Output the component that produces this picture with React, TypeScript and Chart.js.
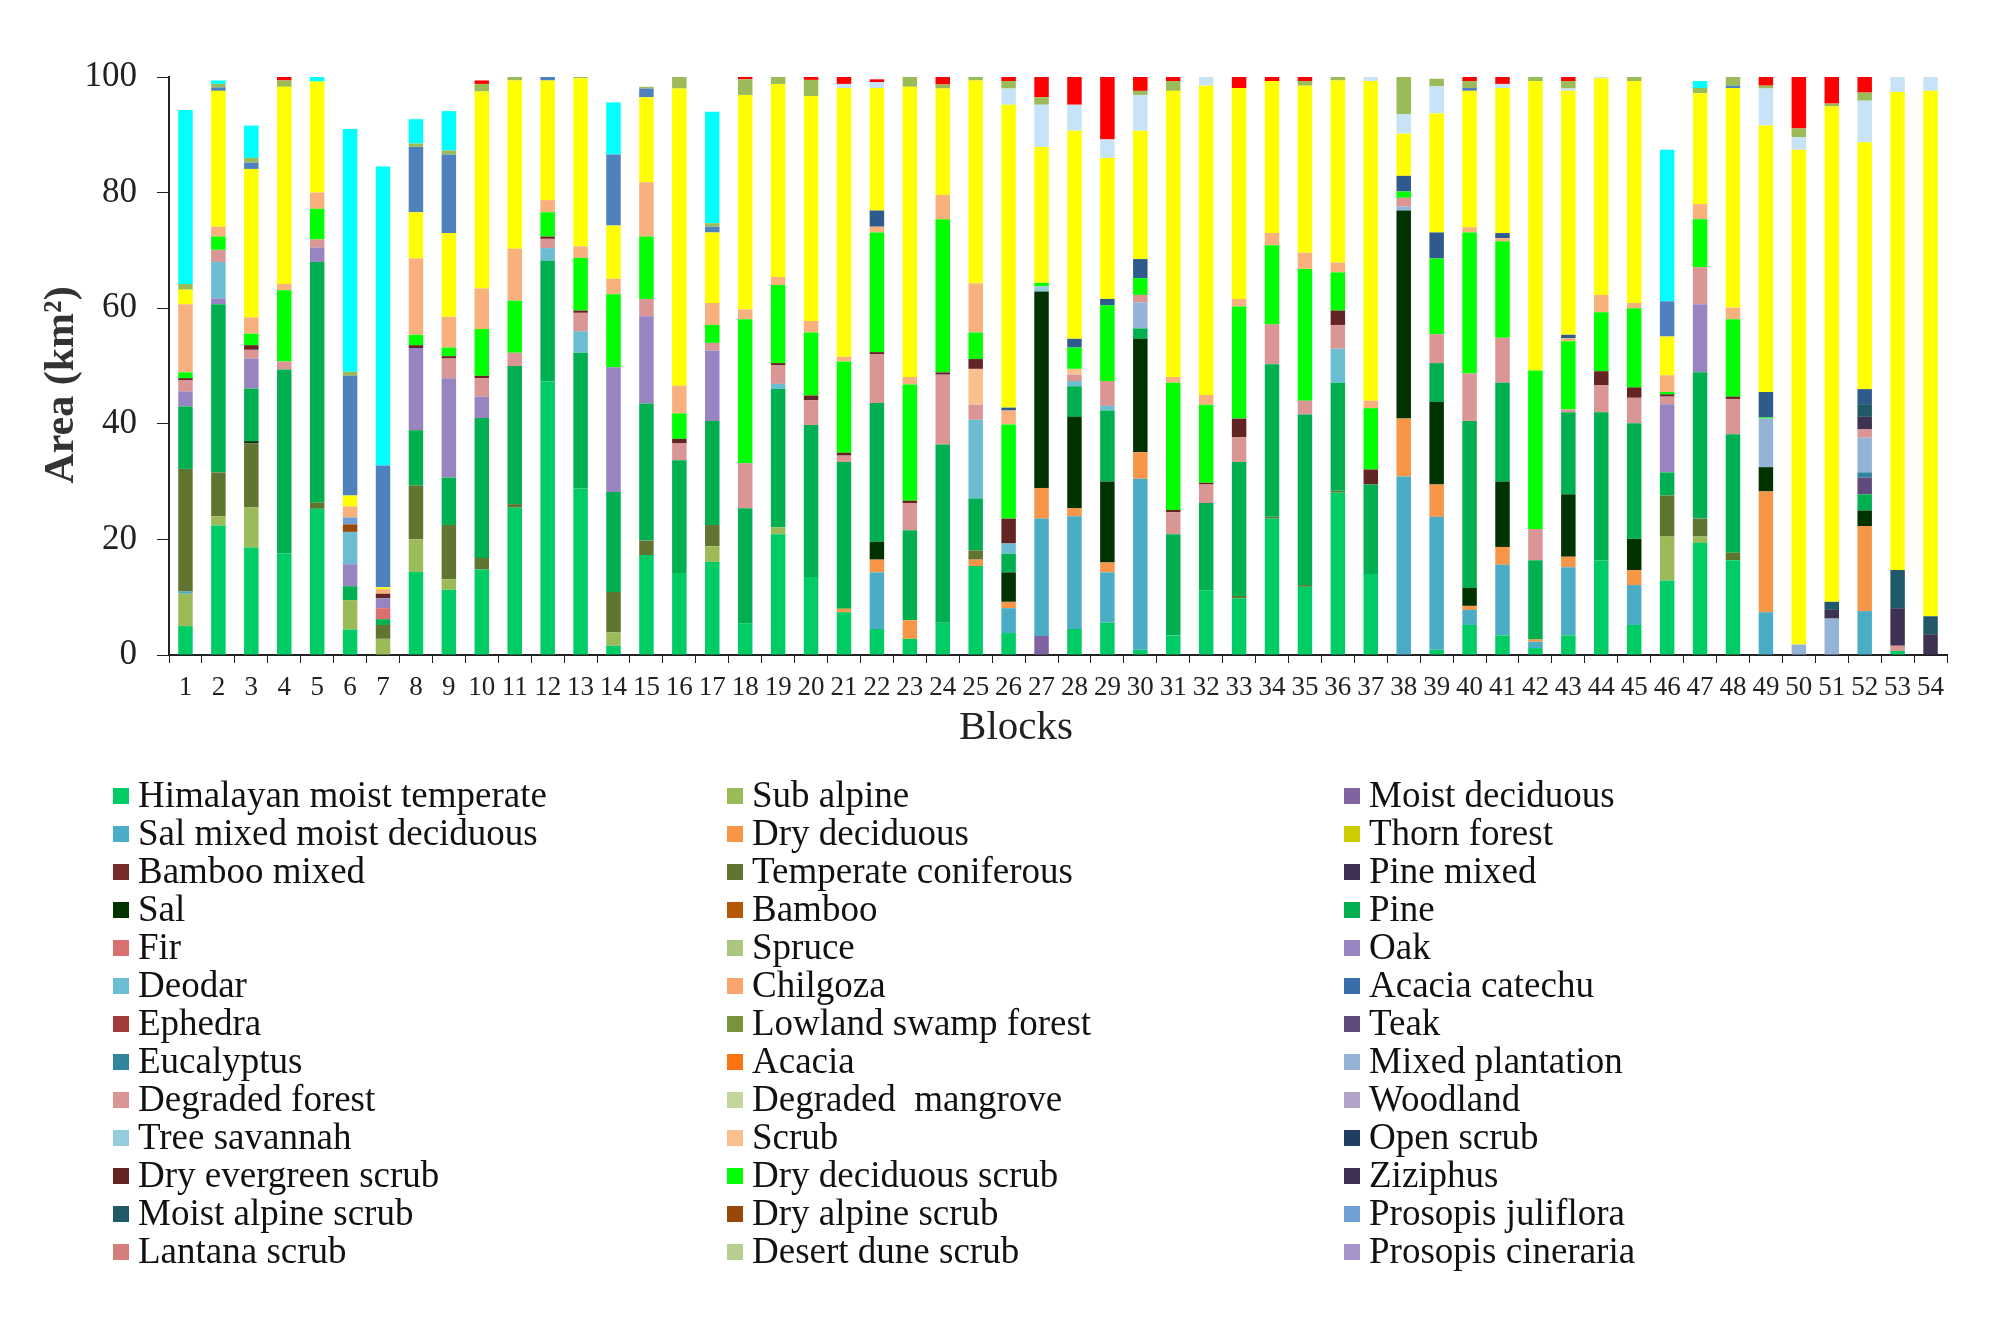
import { useEffect, useRef } from 'react';
import { Chart, registerables } from 'chart.js';

Chart.register(...registerables);

const blocks = Array.from({ length: 54 }, (_, i) => String(i + 1));
const yTicks = [0, 20, 40, 60, 80, 100];

// area per block (km2), bottom to top
const hmt = [
  5.0, 22.4, 18.6, 17.6, 25.3, 4.4, 0, 14.4, 11.3, 14.8,
  25.5, 47.3, 28.8, 1.6, 17.3, 14.2, 16.1, 5.5, 20.9, 13.5,
  7.4, 4.5, 2.8, 5.6, 15.4, 3.8, 0, 4.5, 5.6, 0.9,
  3.4, 11.2, 9.8, 23.6, 11.8, 28.1, 14.0, 0, 0.9, 5.2,
  3.4, 1.2, 3.4, 16.4, 5.2, 12.9, 19.4, 16.4, 0, 0,
  0, 0, 0.7, 0,
];
const subAlpine = [
  5.6, 1.6, 6.9, 0, 0, 5.1, 2.8, 5.6, 1.8, 0,
  0, 0, 0, 2.3, 0, 0, 2.7, 0, 1.2, 0,
  0, 0, 0, 0, 0, 0, 0, 0, 0, 0,
  0, 0, 0, 0, 0, 0, 0, 0, 0, 0,
  0, 0, 0, 0, 0, 7.6, 1.1, 0, 0, 0,
  0, 0, 0, 0,
];
const moistDeciduous = [
  0, 0, 0, 0, 0, 0, 0, 0, 0, 0,
  0, 0, 0, 0, 0, 0, 0, 0, 0, 0,
  0, 0, 0, 0, 0, 0, 3.3, 0, 0, 0,
  0, 0, 0, 0, 0, 0, 0, 0, 0, 0,
  0, 0, 0, 0, 0, 0, 0, 0, 0, 0,
  0, 0, 0, 0,
];
const salMixed = [
  0.4, 0, 0, 0, 0, 0, 0, 0, 0, 0,
  0, 0, 0, 0, 0, 0, 0, 0, 0, 0,
  0, 9.8, 0, 0, 0, 4.3, 20.3, 19.5, 8.7, 29.6,
  0, 0, 0, 0, 0, 0, 0, 30.9, 23.0, 2.6,
  12.2, 1.1, 11.8, 0, 6.9, 0, 0, 0, 7.4, 0,
  0, 7.6, 0, 0,
];
const dryDeciduous = [
  0, 0, 0, 0, 0, 0, 0, 0, 0, 0,
  0, 0, 0, 0, 0, 0, 0, 0, 0, 0,
  0.6, 2.2, 3.2, 0, 1.1, 1.1, 5.3, 1.4, 1.7, 4.6,
  0, 0, 0, 0, 0, 0, 0, 10.0, 5.6, 0.7,
  3.1, 0.4, 1.8, 0, 2.6, 0, 0, 0, 20.9, 0,
  0, 14.7, 0, 0,
];
const temperateConiferous = [
  21.2, 7.6, 11.1, 0, 1.1, 0, 2.4, 9.3, 9.4, 2.0,
  0.6, 0, 0, 7.0, 2.5, 0, 3.7, 0, 0, 0,
  0, 0, 0, 0, 1.6, 0, 0, 0, 0, 0,
  0, 0, 0.4, 0.3, 0.3, 0.3, 0, 0, 0, 0,
  0, 0, 0, 0, 0, 7.1, 3.1, 1.3, 0, 0,
  0, 0, 0, 0,
];
const sal = [
  0, 0, 0.4, 0, 0, 0, 0, 0, 0, 0,
  0, 0, 0, 0, 0, 0, 0, 0, 0, 0,
  0, 3.1, 0, 0, 0, 5.1, 34.0, 15.8, 14.0, 19.6,
  0, 0, 0, 0, 0, 0, 0, 36.0, 14.3, 3.1,
  11.3, 0, 10.8, 0, 5.4, 0, 0, 0, 4.2, 0,
  0, 2.7, 0, 0,
];
const pine = [
  10.8, 29.1, 9.1, 31.8, 41.6, 2.4, 1.0, 9.6, 8.2, 24.2,
  23.9, 20.9, 23.5, 17.3, 23.7, 19.5, 18.0, 19.9, 23.9, 26.3,
  25.4, 24.0, 15.6, 30.8, 9.0, 3.2, 0, 5.3, 12.3, 1.8,
  17.5, 15.1, 23.2, 26.4, 29.5, 18.7, 15.5, 0, 6.7, 28.9,
  17.1, 13.7, 14.2, 25.6, 20.0, 4.0, 25.3, 20.5, 0, 0,
  0, 2.8, 0, 0,
];
const fir = [
  0, 0, 0, 0, 0, 0, 1.9, 0, 0, 0,
  0, 0, 0, 0, 0, 0, 0, 0, 0, 0,
  0, 0, 0, 0, 0, 0, 0, 0, 0, 0,
  0, 0, 0, 0, 0, 0, 0, 0, 0, 0,
  0, 0, 0, 0, 0, 0, 0, 0, 0, 0,
  0, 0, 0, 0,
];
const oak = [
  2.6, 1.0, 5.2, 0, 2.5, 3.8, 1.7, 14.2, 17.2, 3.7,
  0, 0, 0, 21.6, 15.1, 0, 12.2, 0, 0, 0,
  0, 0, 0, 0, 0, 0, 0, 0, 0, 0,
  0, 0, 0, 0, 0, 0, 0, 0, 0, 0,
  0, 0, 0, 0, 0, 11.8, 11.8, 0, 0, 0,
  0, 0, 0, 0,
];
const deodar = [
  0, 6.3, 0, 0, 0, 5.6, 0, 0, 0, 0,
  0, 2.2, 3.7, 0, 0, 0, 0, 0, 0.9, 0,
  0, 0, 0, 0, 13.6, 1.8, 0, 0.9, 0.8, 0,
  0, 0, 0, 0, 0, 5.9, 0, 0, 0, 0,
  0, 0, 0, 0, 0, 0, 0, 0, 0, 0,
  0, 0, 0, 0,
];
const teak = [
  0, 0, 0, 0, 0, 0, 0, 0, 0, 0,
  0, 0, 0, 0, 0, 0, 0, 0, 0, 0,
  0, 0, 0, 0, 0, 0, 0, 0, 0, 0,
  0, 0, 0, 0, 0, 0, 0, 0, 0, 0,
  0, 0, 0, 0, 0, 0, 0, 0, 0, 0,
  0, 2.9, 0, 0,
];
const eucalyptus = [
  0, 0, 0, 0, 0, 0, 0, 0, 0, 0,
  0, 0, 0, 0, 0, 0, 0, 0, 0, 0,
  0, 0, 0, 0, 0, 0, 0, 0, 0, 0,
  0, 0, 0, 0, 0, 0, 0, 0, 0, 0,
  0, 0, 0, 0, 0, 0, 0, 0, 0, 0,
  0, 0.9, 0, 0,
];
const mixedPlantation = [
  0, 0, 0, 0, 0, 0, 0, 0, 0, 0,
  0, 0, 0, 0, 0, 0, 0, 0, 0, 0,
  0, 0, 0, 0, 0, 0, 0, 0, 0, 4.5,
  0, 0, 0, 0, 0, 0, 0, 0.7, 0, 0,
  0, 0, 0, 0, 0, 0, 0, 0, 8.4, 1.8,
  6.3, 6.0, 0, 0,
];
const degradedForest = [
  1.9, 2.1, 1.5, 1.4, 1.4, 0, 0, 0, 3.4, 3.2,
  2.3, 1.6, 3.2, 0, 3.0, 2.9, 1.3, 7.8, 3.2, 4.3,
  1.1, 8.4, 4.7, 12.1, 2.6, 0, 0, 1.1, 4.3, 1.3,
  3.8, 3.2, 4.3, 6.9, 2.4, 4.1, 0, 1.5, 5.0, 8.2,
  7.8, 5.4, 0.5, 4.7, 4.4, 1.3, 6.4, 6.1, 0, 0,
  0, 1.5, 0.9, 0,
];
const treeSavannah = [
  0, 0, 0, 0, 0, 0, 0, 0, 0, 0,
  0, 0, 0, 0, 0, 0, 0, 0, 0, 0,
  0, 0, 0, 0, 0, 0, 0.9, 0, 0, 0,
  0, 0, 0, 0, 0, 0, 0, 0, 0, 0,
  0, 0, 0, 0, 0, 0, 0, 0, 0, 0,
  0, 0, 0, 0,
];
const scrub = [
  0, 0, 0, 0, 0, 0, 0, 0, 0, 0,
  0, 0, 0, 0, 0, 0, 0, 0, 0, 0,
  0, 0, 0, 0, 6.2, 0, 0, 1.0, 0, 0,
  0, 0, 0, 0, 0, 0, 0, 0, 0, 0,
  0, 0, 0, 0, 0, 0, 0, 0, 0, 0,
  0, 0, 0, 0,
];
const dryEvergreenScrub = [
  0.4, 0, 0.8, 0, 0, 0, 0.8, 0.5, 0.4, 0.4,
  0, 0.4, 0.4, 0, 0, 0.8, 0, 0, 0.4, 0.8,
  0.5, 0.4, 0.4, 0.4, 1.7, 4.3, 0, 0, 0, 0,
  0.4, 0.3, 3.2, 0, 0, 2.5, 2.6, 0, 0, 0,
  0, 0, 0, 2.4, 1.8, 0.4, 0, 0.4, 0, 0,
  0, 0, 0, 0,
];
const dryDeciduousScrub = [
  1.0, 2.3, 2.0, 12.3, 5.3, 0, 0, 1.8, 1.5, 8.1,
  9.0, 4.2, 9.1, 12.6, 10.8, 4.4, 3.1, 24.9, 13.5, 10.9,
  15.8, 20.7, 20.1, 26.5, 4.6, 16.3, 0.6, 3.7, 13.1, 2.9,
  22.0, 13.5, 19.4, 13.7, 22.8, 6.6, 10.6, 1.1, 13.1, 24.4,
  16.7, 27.4, 11.8, 10.2, 13.7, 0.4, 8.3, 13.4, 0.2, 0,
  0, 0, 0, 0,
];
const ziziphus = [
  0, 0, 0, 0, 0, 0, 0, 0, 0, 0,
  0, 0, 0, 0, 0, 0, 0, 0, 0, 0,
  0, 0, 0, 0, 0, 0, 0, 0, 0, 0,
  0, 0, 0, 0, 0, 0, 0, 0, 0, 0,
  0, 0, 0, 0, 0, 0, 0, 0, 0, 0,
  1.5, 2.1, 6.5, 3.6,
];
const moistAlpineScrub = [
  0, 0, 0, 0, 0, 0, 0, 0, 0, 0,
  0, 0, 0, 0, 0, 0, 0, 0, 0, 0,
  0, 0, 0, 0, 0, 0, 0, 0, 0, 0,
  0, 0, 0, 0, 0, 0, 0, 0, 0, 0,
  0, 0, 0, 0, 0, 0, 0, 0, 0, 0,
  1.4, 2.2, 6.6, 3.1,
];
const dryAlpineScrub = [
  0, 0, 0, 0, 0, 1.3, 0, 0, 0, 0,
  0, 0, 0, 0, 0, 0, 0, 0, 0, 0,
  0, 0, 0, 0, 0, 0, 0, 0, 0, 0,
  0, 0, 0, 0, 0, 0, 0, 0, 0, 0,
  0, 0, 0, 0, 0, 0, 0, 0, 0, 0,
  0, 0, 0, 0,
];
const prosopisJuliflora = [
  0, 0, 0, 0, 0, 1.2, 0, 0, 0, 0,
  0, 0, 0, 0, 0, 0, 0, 0, 0, 0,
  0, 0, 0, 0, 0, 0, 0, 0, 0, 0,
  0, 0, 0, 0, 0, 0, 0, 0, 0, 0,
  0, 0, 0, 0, 0, 0, 0, 0, 0, 0,
  0, 0, 0, 0,
];

// classes drawn in the columns but not listed in the legend
const grassland = [
  11.8, 1.7, 2.8, 1.1, 2.8, 1.9, 0.8, 13.2, 5.3, 7.0,
  9.0, 2.1, 2.0, 2.7, 9.4, 4.8, 3.8, 1.7, 1.4, 2.0,
  0.8, 1.0, 1.3, 4.2, 8.5, 2.4, 0, 0, 0, 0,
  1.0, 1.7, 1.3, 2.1, 2.8, 1.7, 1.3, 0, 0, 0.9,
  0.5, 0, 0.5, 3.0, 0.9, 2.9, 2.6, 2.0, 0, 0,
  0, 0, 0, 0,
];
const otherScrub = [
  0, 0, 0, 0, 0, 0, 0, 0, 0, 0,
  0, 0, 0, 0, 0, 0, 0, 0, 0, 0,
  0, 2.8, 0, 0, 0, 0.5, 0, 1.5, 1.1, 3.3,
  0, 0, 0, 0, 0, 0, 0, 2.7, 4.5, 0,
  0.9, 0, 0.6, 0, 0, 0, 0, 0, 4.4, 0,
  0, 2.6, 0, 0,
];
const nonForest = [
  2.5, 23.5, 25.7, 34.1, 19.2, 1.9, 0.3, 8.0, 14.5, 34.1,
  29.1, 20.7, 29.1, 9.2, 14.7, 51.4, 12.2, 37.1, 33.4, 38.9,
  46.5, 21.2, 50.2, 18.4, 35.1, 52.4, 23.5, 36.0, 24.4, 22.2,
  49.5, 53.5, 36.5, 26.3, 28.9, 31.5, 55.3, 7.3, 20.6, 23.6,
  25.1, 50.1, 42.2, 37.5, 38.4, 6.7, 19.2, 38.0, 46.1, 85.6,
  85.7, 42.7, 82.7, 90.9,
];
const alpinePasture = [
  0, 0.6, 1.1, 0, 0, 20.7, 21.1, 11.3, 13.6, 0,
  0, 0.6, 0, 12.3, 1.5, 0, 1.0, 0, 0, 0,
  0, 0, 0, 0, 0, 0, 0, 0, 0, 0,
  0, 0, 0, 0, 0, 0, 0, 0, 0, 0.5,
  0, 0, 0, 0, 0, 6.1, 0, 0.4, 0, 0,
  0, 0, 0, 0,
];
const water = [
  0, 0, 0, 0, 0, 0, 0, 0, 0, 0,
  0, 0, 0, 0, 0, 0, 0, 0, 0, 0,
  0.7, 1.0, 0, 0, 0, 2.8, 7.3, 4.5, 3.2, 6.2,
  0, 1.5, 0, 0, 0, 0, 0.7, 3.4, 4.7, 0,
  0.7, 0, 0.4, 0.2, 0, 0, 0, 0, 6.4, 2.2,
  0, 7.2, 2.6, 2.4,
];
const barren = [
  1.0, 0.6, 0.8, 1.1, 0, 0.7, 0, 0.6, 0.7, 1.3,
  0.6, 0, 0.2, 0, 0.3, 2.0, 0.6, 2.7, 1.2, 2.8,
  0, 0, 1.7, 0.7, 0.6, 1.3, 1.3, 0, 0, 0.7,
  1.7, 0, 0, 0, 0.8, 0.6, 0, 6.4, 1.3, 1.2,
  0, 0.7, 1.3, 0, 0.7, 0, 0.9, 1.5, 0.5, 1.5,
  0.5, 1.4, 0, 0,
];
const settlement = [
  0, 0, 0, 0.6, 0, 0, 0, 0, 0, 0.6,
  0, 0, 0, 0, 0, 0, 0, 0.4, 0, 0.5,
  1.2, 0.5, 0, 1.3, 0, 0.7, 3.5, 4.8, 10.8, 2.4,
  0.7, 0, 1.9, 0.7, 0.7, 0, 0, 0, 0, 0.7,
  1.2, 0, 0.7, 0, 0, 0, 0, 0, 1.5, 8.9,
  4.6, 2.7, 0, 0,
];
const snow = [
  30.1, 0.6, 5.6, 0, 0.8, 42.0, 51.7, 4.2, 6.8, 0,
  0, 0, 0, 9.0, 0, 0, 19.3, 0, 0, 0,
  0, 0, 0, 0, 0, 0, 0, 0, 0, 0,
  0, 0, 0, 0, 0, 0, 0, 0, 0, 0,
  0, 0, 0, 0, 0, 26.2, 1.2, 0, 0, 0,
  0, 0, 0, 0,
];
const none: number[] = [];

type Series = { label: string; color: string; data: number[]; legend: boolean };

// stacking order = legend order (row by row), then the unlisted classes
const series: Series[] = [
  { label: 'Himalayan moist temperate', color: '#00CC66', data: hmt, legend: true },
  { label: 'Sub alpine', color: '#9BBB59', data: subAlpine, legend: true },
  { label: 'Moist deciduous', color: '#8064A2', data: moistDeciduous, legend: true },
  { label: 'Sal mixed moist deciduous', color: '#4BACC6', data: salMixed, legend: true },
  { label: 'Dry deciduous', color: '#F79646', data: dryDeciduous, legend: true },
  { label: 'Thorn forest', color: '#CCCC00', data: none, legend: true },
  { label: 'Bamboo mixed', color: '#772C2A', data: none, legend: true },
  { label: 'Temperate coniferous', color: '#5F7530', data: temperateConiferous, legend: true },
  { label: 'Pine mixed', color: '#403152', data: none, legend: true },
  { label: 'Sal', color: '#003300', data: sal, legend: true },
  { label: 'Bamboo', color: '#B65708', data: none, legend: true },
  { label: 'Pine', color: '#00B050', data: pine, legend: true },
  { label: 'Fir', color: '#D9706E', data: fir, legend: true },
  { label: 'Spruce', color: '#ADC67E', data: none, legend: true },
  { label: 'Oak', color: '#9784C0', data: oak, legend: true },
  { label: 'Deodar', color: '#6CBCD2', data: deodar, legend: true },
  { label: 'Chilgoza', color: '#F9A46B', data: none, legend: true },
  { label: 'Acacia catechu', color: '#3A6EAA', data: none, legend: true },
  { label: 'Ephedra', color: '#A33B39', data: none, legend: true },
  { label: 'Lowland swamp forest', color: '#77933C', data: none, legend: true },
  { label: 'Teak', color: '#604A7B', data: teak, legend: true },
  { label: 'Eucalyptus', color: '#31859C', data: eucalyptus, legend: true },
  { label: 'Acacia', color: '#FA7414', data: none, legend: true },
  { label: 'Mixed plantation', color: '#95B3D7', data: mixedPlantation, legend: true },
  { label: 'Degraded forest', color: '#D99694', data: degradedForest, legend: true },
  { label: 'Degraded  mangrove', color: '#C3D69B', data: none, legend: true },
  { label: 'Woodland', color: '#B3A2C7', data: none, legend: true },
  { label: 'Tree savannah', color: '#93CDDD', data: treeSavannah, legend: true },
  { label: 'Scrub', color: '#FAC090', data: scrub, legend: true },
  { label: 'Open scrub', color: '#1F3D63', data: none, legend: true },
  { label: 'Dry evergreen scrub', color: '#632523', data: dryEvergreenScrub, legend: true },
  { label: 'Dry deciduous scrub', color: '#00FF00', data: dryDeciduousScrub, legend: true },
  { label: 'Ziziphus', color: '#3F3151', data: ziziphus, legend: true },
  { label: 'Moist alpine scrub', color: '#215968', data: moistAlpineScrub, legend: true },
  { label: 'Dry alpine scrub', color: '#984807', data: dryAlpineScrub, legend: true },
  { label: 'Prosopis juliflora', color: '#6F9FD4', data: prosopisJuliflora, legend: true },
  { label: 'Lantana scrub', color: '#D47E7C', data: none, legend: true },
  { label: 'Desert dune scrub', color: '#B7CD8E', data: none, legend: true },
  { label: 'Prosopis cineraria', color: '#A593C9', data: none, legend: true },
  { label: 'Grassland', color: '#F8B07C', data: grassland, legend: false },
  { label: 'Other scrub', color: '#2F5A8C', data: otherScrub, legend: false },
  { label: 'Non forest', color: '#FFFF00', data: nonForest, legend: false },
  { label: 'Alpine pasture', color: '#4F81BD', data: alpinePasture, legend: false },
  { label: 'Water body', color: '#C6E3F8', data: water, legend: false },
  { label: 'Barren', color: '#9BBB59', data: barren, legend: false },
  { label: 'Settlement', color: '#FF0000', data: settlement, legend: false },
  { label: 'Snow', color: '#00FFFF', data: snow, legend: false },
];

const FONT = '"Liberation Serif", "Times New Roman", serif';

// axis titles sit a little off-centre in the original, and the legend is a
// three-column grid like the Excel one, so both are drawn here
const extras = {
  id: 'extras',
  afterDraw(chart: any) {
    const ctx = chart.ctx;
    ctx.save();
    ctx.fillStyle = '#222';
    ctx.textAlign = 'center';
    ctx.textBaseline = 'middle';
    ctx.font = `41px ${FONT}`;
    ctx.fillText('Blocks', 1016, 728);

    ctx.save();
    ctx.translate(62, 385);
    ctx.rotate(-Math.PI / 2);
    ctx.fillStyle = '#333';
    ctx.font = `bold 42px ${FONT}`;
    ctx.fillText('Area (km²)', 0, 0);
    ctx.restore();

    const items = series.filter(s => s.legend);
    const colX = [113, 727, 1344];
    const top = 796;
    const rowH = 38;
    const box = 16;
    ctx.font = `37px ${FONT}`;
    ctx.textAlign = 'left';
    items.forEach((s, i) => {
      const x = colX[i % 3];
      const y = top + Math.floor(i / 3) * rowH;
      ctx.fillStyle = s.color;
      ctx.fillRect(x, y - box / 2, box, box);
      ctx.fillStyle = '#111';
      ctx.fillText(s.label, x + 25, y + 1);
    });
    ctx.restore();
  },
};

export default function App() {
  const canvasRef = useRef<HTMLCanvasElement | null>(null);

  useEffect(() => {
    document.body.style.margin = '0';
    if (!canvasRef.current) return;

    const chart = new Chart(canvasRef.current, {
      type: 'bar',
      data: {
        labels: blocks,
        datasets: series.map(s => ({
          label: s.label,
          data: s.data,
          backgroundColor: s.color,
          borderWidth: 0,
          barPercentage: 0.44,
          categoryPercentage: 1,
        })),
      },
      options: {
        animation: false,
        responsive: false,
        devicePixelRatio: 1,
        layout: { padding: { left: 33, right: 60, top: 77, bottom: 566 } },
        plugins: {
          legend: { display: false },
          tooltip: { enabled: false },
        },
        scales: {
          x: {
            stacked: true,
            grid: { drawOnChartArea: false, drawTicks: true, tickLength: 8, color: '#222', offset: true },
            border: { display: true, color: '#222', width: 2 },
            ticks: {
              color: '#222',
              padding: 9,
              maxRotation: 0,
              autoSkip: false,
              font: { family: FONT, size: 27 },
            },
            afterFit: (scale: any) => { scale.height = 104; },
          },
          y: {
            stacked: true,
            min: 0,
            max: 100,
            afterBuildTicks: (scale: any) => { scale.ticks = yTicks.map(v => ({ value: v })); },
            grid: { drawOnChartArea: false, drawTicks: true, tickLength: 12, color: '#222' },
            border: { display: true, color: '#222', width: 2 },
            ticks: {
              color: '#222',
              padding: 20,
              font: { family: FONT, size: 35 },
            },
            afterFit: (scale: any) => { scale.width = 136; },
          },
        },
      },
      plugins: [extras],
    });

    return () => chart.destroy();
  }, []);

  return (
    <div style={{ width: 2007, height: 1325, background: '#fff' }}>
      <canvas ref={canvasRef} width={2007} height={1325} />
    </div>
  );
}
